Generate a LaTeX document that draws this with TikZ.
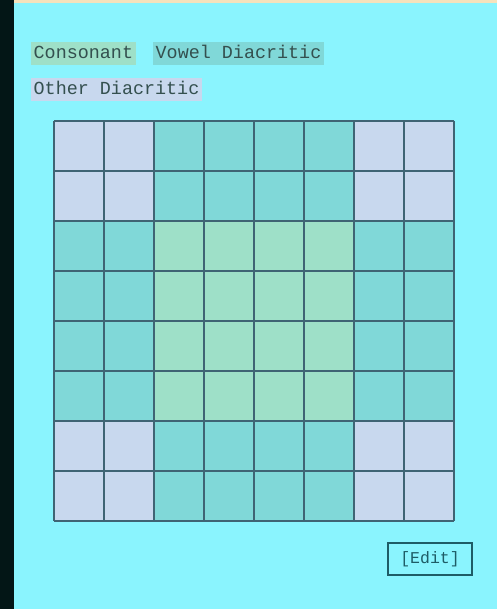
\documentclass[tikz,border=0pt]{standalone}
\usepackage{fontspec}
\setmonofont{Liberation Mono}
\definecolor{bg}{HTML}{8AF4FE}
\definecolor{leftbar}{HTML}{031616}
\definecolor{topbar}{HTML}{F6E2BC}
\definecolor{cons}{HTML}{9EE0C8}
\definecolor{vowel}{HTML}{80D8D8}
\definecolor{other}{HTML}{C8D8EE}
\definecolor{gridline}{HTML}{3F6474}
\definecolor{txt}{HTML}{34504F}
\definecolor{btn}{HTML}{1E5C66}
\tikzset{
  legend/.style={inner xsep=2.5pt, inner ysep=3pt, anchor=north west, text=txt, font=\ttfamily\fontsize{18.4}{18}\selectfont, text height=13pt, text depth=4pt},
  cell/.style={draw=gridline, line width=1.1pt},
  btnbox/.style={draw=btn, line width=1.3pt, text=btn, font=\ttfamily\fontsize{16.5}{17}\selectfont, minimum width=84pt, minimum height=32pt, inner sep=0pt}
}
\begin{document}
\begin{tikzpicture}[x=1pt,y=-1pt]
\useasboundingbox (0,0) rectangle (497,609);
\fill[bg] (0,0) rectangle (497,609);
\fill[topbar] (0,0) rectangle (497,3);
\fill[leftbar] (0,0) rectangle (14,609);
\node[legend, fill=cons] (lc) at (31,42) {Consonant};
\node[legend, fill=vowel] (lv) at (153,42) {Vowel Diacritic};
\node[legend, fill=other] (lo) at (31,78) {Other Diacritic};
\foreach \r in {0,...,7}{
  \foreach \c in {0,...,7}{
    \pgfmathtruncatemacro{\rr}{(\r<2 || \r>5) ? 1 : 0}
    \pgfmathtruncatemacro{\cc}{(\c<2 || \c>5) ? 1 : 0}
    \pgfmathtruncatemacro{\k}{\rr+\cc}
    \ifcase\k \def\fc{cons}\or \def\fc{vowel}\else \def\fc{other}\fi
    \fill[\fc] ({54+50*\c},{121+50*\r}) rectangle ++(50,50);
  }
}
\foreach \i in {0,...,8}{
  \draw[cell] ({54+50*\i},121) -- ({54+50*\i},521);
  \draw[cell] (54,{121+50*\i}) -- (454,{121+50*\i});
}
\node[btnbox] (edit) at (430,559) {[Edit]};
\end{tikzpicture}
\end{document}
